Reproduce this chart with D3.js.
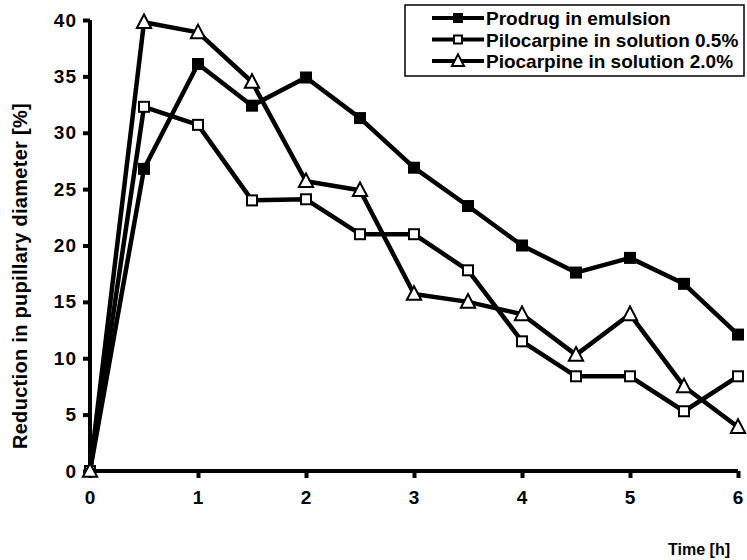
<!DOCTYPE html>
<html>
<head>
<meta charset="utf-8">
<script src="https://cdn.jsdelivr.net/npm/d3@7"></script>
<style>
  body { margin: 0; background: #fff; }
  svg { font-family: "Liberation Sans", Arial, sans-serif; }
</style>
</head>
<body>
<div id="chart_area"></div>
<script>
var margin = { top: 20, right: 9, bottom: 89, left: 90 },
    width = 747 - margin.left - margin.right,
    height = 560 - margin.top - margin.bottom;

var times = [0, 0.5, 1, 1.5, 2, 2.5, 3, 3.5, 4, 4.5, 5, 5.5, 6];
var prodrug = [0, 26.8, 36.1, 32.4, 34.9, 31.3, 26.9, 23.5, 20.0, 17.6, 18.9, 16.6, 12.1];
var pilo05 = [0, 32.3, 30.7, 24.0, 24.1, 21.0, 21.0, 17.8, 11.5, 8.4, 8.4, 5.3, 8.4];
var pilo20 = [0, 39.8, 38.9, 34.5, 25.7, 24.9, 15.7, 15.0, 13.9, 10.3, 13.9, 7.5, 3.9];
var seriesNames = ["Prodrug in emulsion", "Pilocarpine in solution 0.5%", "Piocarpine in solution 2.0%"];
var xTicks = [0, 1, 2, 3, 4, 5, 6];
var yTicks = [0, 5, 10, 15, 20, 25, 30, 35, 40];

var series = [
    { name: seriesNames[0], values: prodrug, marker: "filledSquare" },
    { name: seriesNames[1], values: pilo05, marker: "openSquare" },
    { name: seriesNames[2], values: pilo20, marker: "triangle" }
];

var svg = d3.select("#chart_area")
    .append("svg")
    .attr("width", 747)
    .attr("height", 560)
    .append("g")
    .attr("transform", "translate(" + margin.left + "," + margin.top + ")");

var x = d3.scaleLinear().domain([0, 6]).range([0, width]);
var y = d3.scaleLinear().domain([0, 40]).range([height, 0]);

// axes
var xAxis = svg.append("g")
    .attr("transform", "translate(0," + height + ")")
    .call(d3.axisBottom(x).tickValues(xTicks).tickSize(7).tickPadding(13).tickFormat(d3.format("d")));
var yAxis = svg.append("g")
    .call(d3.axisLeft(y).tickValues(yTicks).tickSize(7).tickPadding(6).tickFormat(d3.format("d")));

[xAxis, yAxis].forEach(function (a) {
    a.attr("font-size", null).attr("font-family", null);
    a.select(".domain").attr("stroke-width", 4).attr("stroke", "#000");
    a.selectAll(".tick line").attr("stroke-width", 4).attr("stroke", "#000");
    a.selectAll(".tick text")
        .style("font-size", "19px").style("font-weight", "bold")
        .style("letter-spacing", "1px").attr("fill", "#000");
});
xAxis.select(".domain").attr("d", "M0,0H" + width);
yAxis.select(".domain").attr("d", "M0," + height + "V0");

// axis titles
svg.append("text")
    .attr("transform", "translate(-63,256)rotate(-90)")
    .attr("text-anchor", "middle")
    .style("font-size", "20px").style("font-weight", "bold")
    .style("letter-spacing", "0.3px")
    .text("Reduction in pupillary diameter [%]");
svg.append("text")
    .attr("x", width - 8).attr("y", height + 84)
    .attr("text-anchor", "end")
    .style("font-size", "16px").style("font-weight", "bold")
    .text("Time [h]");

var line = d3.line()
    .x(function (d) { return x(d.t); })
    .y(function (d) { return y(d.v); });

function drawMarker(g, type, cx, cy, s) {
    if (type === "triangle") {
        g.append("path")
            .attr("d", "M" + cx + "," + (cy - s * 0.6) + "L" + (cx + s * 0.55) + "," + (cy + s * 0.45) + "L" + (cx - s * 0.55) + "," + (cy + s * 0.45) + "Z")
            .attr("fill", "#fff").attr("stroke", "#000").attr("stroke-width", 2);
    } else {
        g.append("rect")
            .attr("x", cx - s / 2).attr("y", cy - s / 2)
            .attr("width", s).attr("height", s)
            .attr("fill", type === "filledSquare" ? "#000" : "#fff")
            .attr("stroke", "#000").attr("stroke-width", 2);
    }
}

series.forEach(function (s) {
    var pts = times.map(function (t, i) { return { t: t, v: s.values[i] }; });
    svg.append("path")
        .datum(pts)
        .attr("fill", "none")
        .attr("stroke", "#000")
        .attr("stroke-width", 4.5)
        .attr("stroke-linejoin", "round")
        .attr("d", line);
    var mg = svg.append("g");
    pts.forEach(function (p) {
        drawMarker(mg, s.marker, x(p.t), y(p.v), s.marker === "triangle" ? 13 : 10);
    });
});

// legend
var legend = d3.select("svg").append("g");
legend.append("rect")
    .attr("x", 405).attr("y", 5)
    .attr("width", 339).attr("height", 71)
    .attr("fill", "#fff").attr("stroke", "#000").attr("stroke-width", 1.5);
series.forEach(function (s, i) {
    var ly = 18 + i * 21.5;
    legend.append("line")
        .attr("x1", 432).attr("x2", 484)
        .attr("y1", ly).attr("y2", ly)
        .attr("stroke", "#000").attr("stroke-width", 4);
    drawMarker(legend, s.marker, 458, ly, s.marker === "triangle" ? 11 : 8);
    legend.append("text")
        .attr("x", 486).attr("y", ly + 7)
        .style("font-size", "19px").style("font-weight", "bold")
        .text(s.name);
});
</script>
</body>
</html>
